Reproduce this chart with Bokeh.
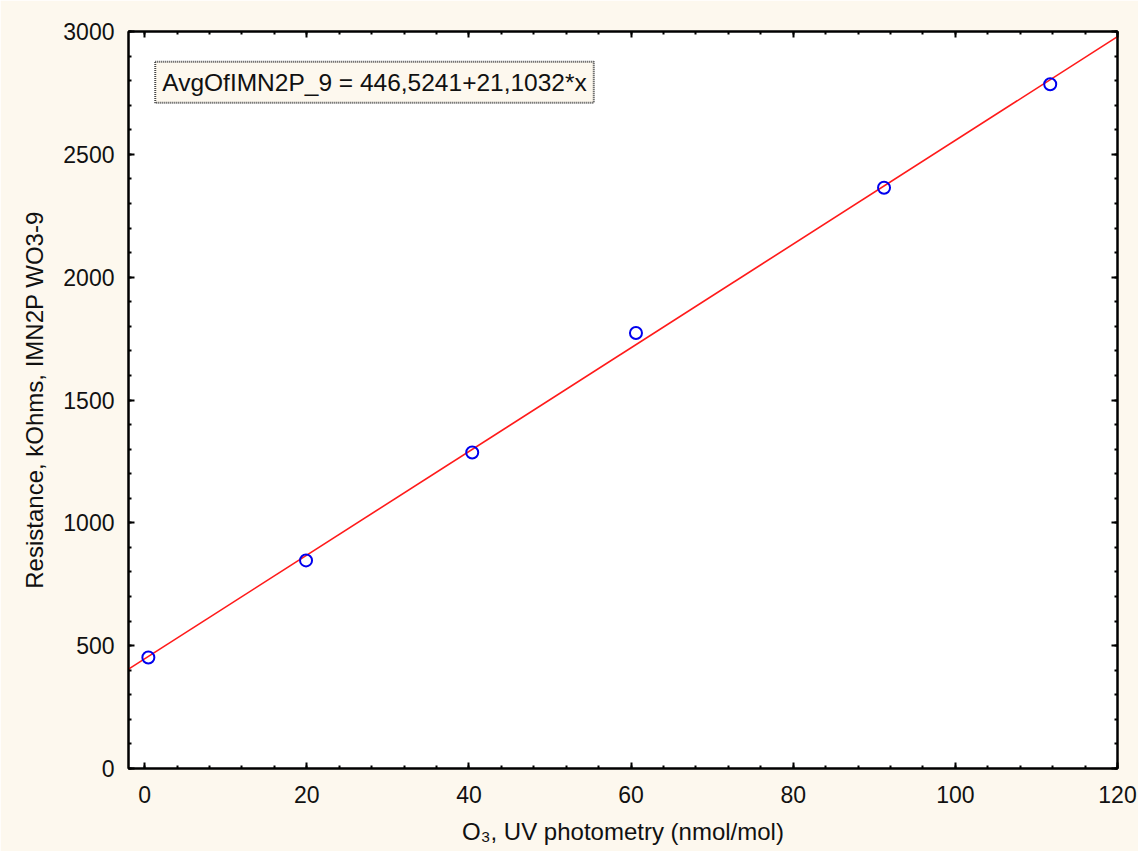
from bokeh.plotting import figure
from bokeh.models import (LinearAxis, SingleIntervalTicker, Range1d, Label, ColumnDataSource)
from bokeh.embed import file_html
from bokeh.resources import INLINE

# Data
o3_x = [0.45, 19.9, 40.4, 60.6, 91.2, 111.7]
resistance_y = [452, 847, 1286, 1773, 2364, 2785]
fit_intercept = 446.5241
fit_slope = 21.1032
x_range_vals = [-2, 120]
y_range_vals = [0, 3000]
equation_text = "AvgOfIMN2P_9 = 446,5241+21,1032*x"
x_label = "O₃, UV photometry (nmol/mol)"
y_label = "Resistance, kOhms, IMN2P WO3-9"

FONT = "Liberation Sans"
CREAM = "#fdf8ee"

p = figure(width=1138, height=851, output_backend="svg", toolbar_location=None,
           x_range=Range1d(*x_range_vals), y_range=Range1d(*y_range_vals),
           min_border_left=128, min_border_right=21, min_border_top=31, min_border_bottom=83,
           x_axis_type=None, y_axis_type=None)
p.border_fill_color = CREAM
p.background_fill_color = "white"
p.outline_line_color = "black"
p.outline_line_width = 2

def style_axis(ax, labels=True):
    ax.axis_line_color = "black"
    ax.axis_line_width = 2
    ax.major_tick_in = 6
    ax.major_tick_out = 0
    ax.minor_tick_in = 3
    ax.minor_tick_out = 0
    ax.major_tick_line_color = "black"
    ax.major_tick_line_width = 2
    ax.minor_tick_line_color = "black"
    ax.minor_tick_line_width = 2
    ax.major_label_text_font = FONT
    ax.major_label_text_font_size = "23px"
    ax.major_label_text_color = "#111111"
    ax.axis_label_text_font = FONT
    ax.axis_label_text_font_size = "24px"
    ax.axis_label_text_font_style = "normal"
    ax.axis_label_text_color = "#111111"
    if not labels:
        ax.major_label_text_font_size = "0px"
        ax.major_label_text_alpha = 0

xt = SingleIntervalTicker(interval=20, num_minor_ticks=5)
yt = SingleIntervalTicker(interval=500, num_minor_ticks=5)

xb = LinearAxis(ticker=xt, axis_label=x_label)
style_axis(xb)
xb.major_label_standoff = 17
xb.axis_label_standoff = 12
p.add_layout(xb, "below")

yl = LinearAxis(ticker=yt, axis_label=y_label)
style_axis(yl)
yl.major_label_standoff = 14
yl.axis_label_standoff = 12
p.add_layout(yl, "left")

xa = LinearAxis(ticker=xt)
style_axis(xa, labels=False)
xa.major_label_standoff = 0
p.add_layout(xa, "above")

yr = LinearAxis(ticker=yt)
style_axis(yr, labels=False)
yr.major_label_standoff = 0
p.add_layout(yr, "right")

p.xgrid.ticker = xt
p.ygrid.ticker = yt
p.xgrid.grid_line_color = "#dedede"
p.ygrid.grid_line_color = "#dedede"
p.xgrid.grid_line_width = 1
p.ygrid.grid_line_width = 1

# Fit line
fit_x = list(x_range_vals)
fit_y = [fit_intercept + fit_slope * v for v in fit_x]
p.line(fit_x, fit_y, line_color="#ff1a1a", line_width=1.6)

# Points
src = ColumnDataSource(dict(x=o3_x, y=resistance_y))
p.scatter("x", "y", source=src, size=12, marker="circle", fill_color=None,
          line_color="#0000ee", line_width=2)

lab = Label(x=1.3, y=2793, text=equation_text, text_font=FONT, text_font_size="24.5px",
            text_color="#111111", text_baseline="middle", text_align="left",
            background_fill_color=CREAM, border_line_color="#444444",
            border_line_dash="1 1", border_line_width=2, padding=7)
p.add_layout(lab)

open("out.html", "w").write(file_html(p, INLINE))
